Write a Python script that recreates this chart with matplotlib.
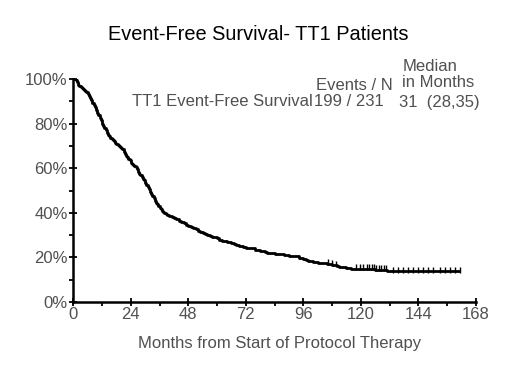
import numpy as np
import matplotlib
matplotlib.use("Agg")
import matplotlib.pyplot as plt
from matplotlib.ticker import MultipleLocator, FuncFormatter

# Kaplan-Meier step curve (months, % event-free)
times = [0, 0.5, 1, 1.5, 2, 2.5, 3, 3.5, 4, 4.5, 5, 5.5, 6, 6.5, 7, 7.5, 8, 8.5,
         9, 9.5, 10, 10.5, 11, 11.5, 12, 12.5, 13, 13.5, 14, 14.5, 15, 15.5, 16,
         16.5, 17, 17.5, 18, 18.5, 19, 19.5, 20, 20.5, 21, 21.5, 22, 22.5, 23,
         23.5, 24, 24.5, 25, 25.5, 26, 26.5, 27, 27.5, 28, 28.5, 29, 29.5, 30,
         30.5, 31, 31.5, 32, 32.5, 33, 33.5, 34, 34.5, 35, 35.5, 36, 36.5, 37,
         37.5, 38, 38.5, 39, 39.5, 40, 41, 42, 43, 44, 45, 46, 47, 48, 49, 50,
         51, 52, 53, 54, 55, 56, 57, 58, 59, 60, 61, 62, 63, 64, 65, 66, 67, 68,
         69, 70, 71, 72, 74, 76, 77, 78, 79, 80, 81, 82, 84, 86, 88, 90, 92, 94,
         95, 96, 97, 98, 99, 100, 102, 104, 106, 108, 109, 110, 111, 113, 114,
         116, 117, 126, 131, 161]
surv = [100, 100, 99.5, 98.5, 97.5, 97, 96.5, 96, 95.5, 95, 94.5, 94, 93.5, 92.5,
        91.5, 90.5, 89.5, 88.5, 87.5, 86, 85, 84, 82.5, 81.5, 80, 79, 78, 77, 76,
        75, 74.5, 73.5, 73, 72.5, 72, 71.5, 71, 70.5, 70, 69.5, 69, 68.5, 67.5,
        66.5, 65.5, 65, 64, 63.5, 62.5, 62, 61.5, 61, 60.5, 59.5, 58.5, 57.5, 57,
        56, 55, 54.5, 53.5, 52.5, 51.5, 50.5, 49.5, 48.5, 47.5, 46.5, 45.5, 44.5,
        44, 43, 42.3, 41.6, 41, 40.5, 40, 39.6, 39.2, 38.8, 38.5, 38, 37.5, 37, 36.3,
        36, 35.3, 34.7, 34, 33.5, 33, 32.5, 32, 31.5, 31, 30.5, 30, 29.7, 29.3,
        29, 28.5, 28, 27.5, 27.2, 27, 26.7, 26.3, 26, 25.5, 25.2, 25, 24.7, 24.4,
        24, 23.5, 23.2, 23, 22.7, 22.4, 22.1, 21.9, 21.6, 21.3, 21, 20.7, 20.4,
        19.9, 19.5, 19.2, 18.8, 18.5, 18.2, 17.9, 17.6, 17.3, 17, 16.7, 16.4,
        16.1, 15.8, 15.5, 15.2, 14.9, 14.7, 14.3, 13.7, 13.7]
censor_times = [106.5, 108, 109.5, 118, 119.5, 121, 122.5, 123.5, 124.5, 125.5,
                126.5, 127.5, 128.5, 129.5, 130.5, 133.6, 135.6, 137.7, 139.8,
                141.9, 144, 146, 148.1, 150.2, 153.1, 155.2, 157.3, 159.4, 161.3]

x_ticks = [0, 24, 48, 72, 96, 120, 144, 168]
y_ticks = [0, 20, 40, 60, 80, 100]

title = "Event-Free Survival- TT1 Patients"
xlabel = "Months from Start of Protocol Therapy"
series_label = "TT1 Event-Free Survival"
events_n = "199 / 231"
median_txt = "31  (28,35)"

plt.rcParams['font.family'] = ['Liberation Sans', 'DejaVu Sans']
grey = '#505050'
fs = 12

fig = plt.figure(figsize=(5.2, 3.75), dpi=100)
ax = fig.add_axes([0.141, 0.195, 0.774, 0.594])

ax.step(times, surv, where='post', color='black', lw=2.0)
t_arr = np.array(times)
s_arr = np.array(surv)
cy = [s_arr[np.searchsorted(t_arr, c, side='right') - 1] + 0.8 for c in censor_times]
ax.plot(censor_times, cy, linestyle='none', marker='|', color='black',
        markersize=4, markeredgewidth=1.0)

ax.set_xlim(0, 168)
ax.set_ylim(0, 100)
ax.set_xticks(x_ticks)
ax.set_yticks(y_ticks)
ax.xaxis.set_minor_locator(MultipleLocator(12))
ax.yaxis.set_minor_locator(MultipleLocator(10))
ax.yaxis.set_major_formatter(FuncFormatter(lambda v, p: f"{int(v)}%"))
for s in ['top', 'right']:
    ax.spines[s].set_visible(False)
for s in ['left', 'bottom']:
    ax.spines[s].set_linewidth(1.8)
ax.tick_params(which='major', direction='inout', length=6, width=1.3,
               labelsize=fs, labelcolor=grey, pad=1)
ax.tick_params(which='minor', direction='out', length=3, width=1.3)

fig.text(0.538, 0.085, xlabel, ha='center', va='center', fontsize=fs, color=grey)
fig.text(0.497, 0.907, title, ha='center', va='center', fontsize=14.4, color='black')

# legend / table text
fig.text(0.602, 0.728, series_label, ha='right', va='center', fontsize=fs, color=grey)
fig.text(0.603, 0.728, events_n, ha='left', va='center', fontsize=fs, color=grey)
fig.text(0.923, 0.728, median_txt, ha='right', va='center', fontsize=fs, color=grey)
fig.text(0.756, 0.773, "Events / N", ha='right', va='center', fontsize=fs, color=grey)
fig.text(0.827, 0.822, "Median", ha='center', va='center', fontsize=fs, color=grey)
fig.text(0.842, 0.779, "in Months", ha='center', va='center', fontsize=fs, color=grey)

fig.savefig("out.png", dpi=100)
